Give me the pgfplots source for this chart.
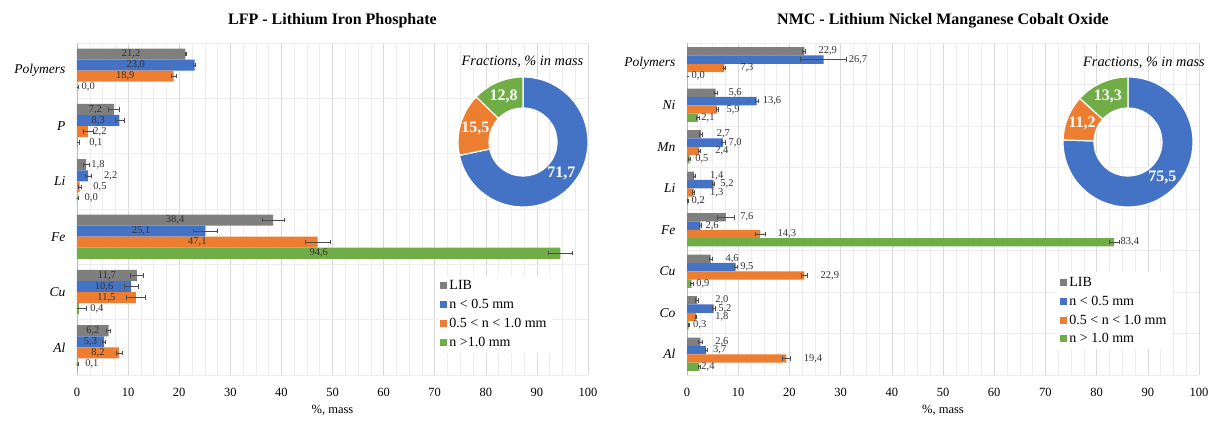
\documentclass[border=0pt]{standalone}
\usepackage{fontspec}
\setmainfont{Liberation Serif}
\usepackage{pgfplots}
\usepackage{pgfplotstable}
\pgfplotsset{compat=1.18}

\definecolor{cgray}{HTML}{7F7F7F}
\definecolor{cblue}{HTML}{4472C4}
\definecolor{corange}{HTML}{ED7D31}
\definecolor{cgreen}{HTML}{70AD47}
\definecolor{gridmaj}{HTML}{D9D9D9}
\definecolor{gridmin}{HTML}{EDEDED}
\definecolor{labtxt}{HTML}{333333}

\newcommand{\tickfont}{\fontsize{12.5}{14}\selectfont}
\newcommand{\catfont}{\fontsize{13.5}{15}\selectfont\itshape}
\newcommand{\labfont}{\fontsize{10.5}{12}\selectfont}
\newcommand{\legfont}{\fontsize{14}{16}\selectfont}

% LFP: cat (Polymers=5 ... Al=0), value and error for each series
\pgfplotstableread{
cat lib libe f fe m me c ce
5 21.2 0.1 23.0 0.2 18.9 0.5 0.0 0.3
4 7.2 1.0 8.3 0.9 2.2 1.0 0.1 0.4
3 1.8 0.6 2.2 0.6 0.5 0.3 0.0 0.2
2 38.4 2.2 25.1 2.3 47.1 2.5 94.6 2.3
1 11.7 1.2 10.6 1.3 11.5 1.8 0.4 1.5
0 6.2 0.4 5.3 0.3 8.2 0.6 0.1 0.2
}\lfp

\pgfplotstableread{
x y t
10.6 5.3 {21,2}
11.5 5.1 {23,0}
9.45 4.9 {18,9}
2.2 4.7 {0,0}
3.6 4.3 {7,2}
4.15 4.1 {8,3}
4.5 3.9 {2,2}
3.7 3.7 {0,1}
4.1 3.3 {1,8}
6.6 3.1 {2,2}
4.5 2.9 {0,5}
2.8 2.7 {0,0}
19.2 2.3 {38,4}
12.55 2.1 {25,1}
23.55 1.9 {47,1}
47.3 1.7 {94,6}
5.85 1.3 {11,7}
5.3 1.1 {10,6}
5.75 0.9 {11,5}
3.9 0.7 {0,4}
3.1 0.3 {6,2}
2.65 0.1 {5,3}
4.1 -0.1 {8,2}
2.9 -0.3 {0,1}
}\lfplab

% NMC: cat (Polymers=7 ... Al=0)
\pgfplotstableread{
cat lib libe f fe m me c ce
7 22.9 0.3 26.7 4.5 7.3 0.2 0.0 0.0
6 5.6 0.3 13.6 0.3 5.9 0.2 2.1 0.3
5 2.7 0.3 7.0 0.4 2.4 0.2 0.5 0.2
4 1.4 0.2 5.2 0.2 1.3 0.2 0.2 0.1
3 7.6 1.6 2.6 0.2 14.3 0.9 83.4 1.0
2 4.6 0.3 9.5 0.3 22.9 0.5 0.9 0.3
1 2.0 0.3 5.2 0.3 1.8 0.1 0.3 0.1
0 2.6 0.3 3.7 0.2 19.4 0.8 2.4 0.2
}\nmc

\pgfplotstableread{
x y t
27.5 7.3 {22,9}
33.4 7.1 {26,7}
11.7 6.9 {7,3}
2.2 6.7 {0,0}
9.4 6.3 {5,6}
16.6 6.1 {13,6}
9.0 5.9 {5,9}
4.1 5.7 {2,1}
7.1 5.3 {2,7}
9.4 5.1 {7,0}
6.8 4.9 {2,4}
2.9 4.7 {0,5}
5.8 4.3 {1,4}
7.8 4.1 {5,2}
5.8 3.9 {1,3}
2.2 3.7 {0,2}
11.7 3.3 {7,6}
4.9 3.1 {2,6}
19.5 2.9 {14,3}
86.5 2.7 {83,4}
8.8 2.3 {4,6}
11.7 2.1 {9,5}
27.9 1.9 {22,9}
3.1 1.7 {0,9}
6.8 1.3 {2,0}
7.4 1.1 {5,2}
6.8 0.9 {1,8}
2.5 0.7 {0,3}
6.8 0.3 {2,6}
6.4 0.1 {3,7}
24.6 -0.1 {19,4}
4.1 -0.3 {2,4}
}\nmclab

\pgfplotsset{
  common/.style={
    scale only axis,
    anchor=south west,
    xmin=0, xmax=100,
    xtick={0,10,...,100},
    minor x tick num=3,
    xmajorgrids, xminorgrids,
    major grid style={gridmaj, line width=0.6pt},
    minor grid style={gridmin, line width=0.5pt},
    yminorgrids,
    major tick length=0pt, minor tick length=0pt,
    axis line style={draw=none},
    extra x ticks={0}, extra x tick labels={},
    extra x tick style={xmajorgrids, major grid style={gray!55, line width=0.7pt}},
    /pgf/number format/assume math mode=true,
    xticklabel style={font=\tickfont, anchor=center, yshift=-17pt},
    yticklabel style={font=\catfont, anchor=east, xshift=-8pt},
    title style={font=\fontsize{16}{18}\selectfont\bfseries, at={(axis description cs:0.5,1)}, anchor=center, yshift=16pt},
    xlabel style={font=\tickfont, at={(axis description cs:0.5,0)}, anchor=center, yshift=-35pt},
    legend style={draw=none, fill=white, font=\legfont, anchor=north west,
      row sep=4pt, cells={anchor=west}, inner sep=3pt},
    legend image code/.code={\fill[##1,draw=none] (0pt,-3.5pt) rectangle (7pt,3.5pt);},
    clip=true,
  },
  barS/.style 2 args={xbar, bar width=0.2, bar shift=0pt, draw=none, fill=#1,
    error bars/x dir=both, error bars/x explicit,
    error bars/error bar style={line width=0.6pt, black!70},
    error bars/error mark=|,
    error bars/error mark options={line width=0.6pt, black!70, mark size=2.2pt}},
  labS/.style={draw=none, mark=none, forget plot, nodes near coords,
    point meta=explicit symbolic,
    nodes near coords style={anchor=center, font=\labfont, text=labtxt, inner sep=0pt}},
}

\newcommand{\slice}[5]{%
  \fill[#5, draw=white, line width=1.2pt]
    ([shift={(#1,#2)}]#3:65pt) arc[start angle=#3, end angle=#4, radius=65pt]
    -- ([shift={(#1,#2)}]#4:34pt) arc[start angle=#4, end angle=#3, radius=34pt] -- cycle;}

% cx, cy, blue, orange, green, label1, label2, label3
\newcommand{\donut}[8]{%
  \pgfmathsetmacro\aA{90}%
  \pgfmathsetmacro\aB{90-3.6*#3}%
  \pgfmathsetmacro\aC{\aB-3.6*#4}%
  \pgfmathsetmacro\aD{\aC-3.6*#5}%
  \slice{#1}{#2}{\aA}{\aB}{cblue}
  \slice{#1}{#2}{\aB}{\aC}{corange}
  \slice{#1}{#2}{\aC}{\aD}{cgreen}
  \pgfmathsetmacro\mA{(\aA+\aB)/2}%
  \pgfmathsetmacro\mB{(\aB+\aC)/2}%
  \pgfmathsetmacro\mC{(\aC+\aD)/2}%
  \begin{scope}[every node/.style={text=white, font=\fontsize{16}{18}\selectfont\bfseries, inner sep=0pt}]
  \node at ([shift={(#1,#2)}]\mA:49.5pt) {#6};
  \node at ([shift={(#1,#2)}]\mB:49.5pt) {#7};
  \node at ([shift={(#1,#2)}]\mC:49.5pt) {#8};
  \end{scope}}

\begin{document}
\begin{tikzpicture}
\useasboundingbox (0,0) rectangle (1215pt,421pt);

\begin{axis}[common,
  at={(77pt,46pt)}, width=511pt, height=332pt,
  ymin=-0.5, ymax=5.5,
  ytick={0,...,5},
  yticklabels={Al,Cu,Fe,Li,P,Polymers},
  minor ytick={-0.5,0.5,...,5.5},
  title={LFP - Lithium Iron Phosphate},
  xlabel={\%, mass},
  legend style={at={(axis description cs:0.705,0.30)}},
]
\addplot[barS={cgray}{0.3}] table[y expr=\thisrow{cat}+0.3, x=lib, x error=libe]{\lfp};
\addplot[barS={cblue}{0.1}] table[y expr=\thisrow{cat}+0.1, x=f, x error=fe]{\lfp};
\addplot[barS={corange}{-0.1}] table[y expr=\thisrow{cat}-0.1, x=m, x error=me]{\lfp};
\addplot[barS={cgreen}{-0.3}] table[y expr=\thisrow{cat}-0.3, x=c, x error=ce]{\lfp};
\legend{LIB, n < 0.5 mm, 0.5 < n < 1.0 mm, n >1.0 mm}
\addplot[labS] table[x=x, y=y, meta=t]{\lfplab};
\end{axis}

\begin{axis}[common,
  at={(687pt,46pt)}, width=512pt, height=332pt,
  ymin=-0.5, ymax=7.5,
  ytick={0,...,7},
  yticklabels={Al,Co,Cu,Fe,Li,Mn,Ni,Polymers},
  minor ytick={-0.5,0.5,...,7.5},
  title={NMC - Lithium Nickel Manganese Cobalt Oxide},
  xlabel={\%, mass},
  legend style={at={(axis description cs:0.723,0.31)}},
]
\addplot[barS={cgray}{0.3}] table[y expr=\thisrow{cat}+0.3, x=lib, x error=libe]{\nmc};
\addplot[barS={cblue}{0.1}] table[y expr=\thisrow{cat}+0.1, x=f, x error=fe]{\nmc};
\addplot[barS={corange}{-0.1}] table[y expr=\thisrow{cat}-0.1, x=m, x error=me]{\nmc};
\addplot[barS={cgreen}{-0.3}] table[y expr=\thisrow{cat}-0.3, x=c, x error=ce]{\nmc};
\legend{LIB, n < 0.5 mm, 0.5 < n < 1.0 mm, n > 1.0 mm}
\addplot[labS] table[x=x, y=y, meta=t]{\nmclab};
\end{axis}

\donut{523pt}{279pt}{71.7}{15.5}{12.8}{71,7}{15,5}{12,8}
\node[font=\fontsize{14.3}{16}\selectfont\itshape] at (522.5pt,359pt) {Fractions, \% in mass};

\donut{1128pt}{279pt}{75.5}{11.2}{13.3}{75,5}{11,2}{13,3}
\node[font=\fontsize{14.3}{16}\selectfont\itshape] at (1144pt,358pt) {Fractions, \% in mass};
\end{tikzpicture}
\end{document}
